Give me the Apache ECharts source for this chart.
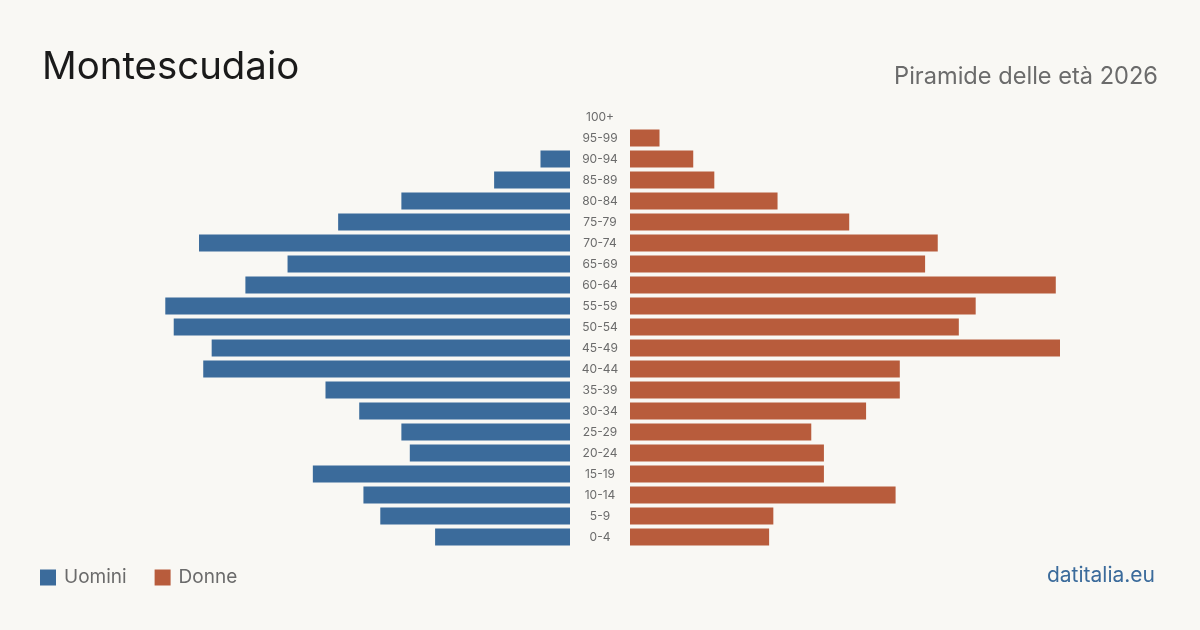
<!DOCTYPE html>
<html>
<head>
<meta charset="utf-8">
<script src="https://cdn.jsdelivr.net/npm/echarts@6/dist/echarts.min.js"></script>
<style>
  html, body { margin: 0; padding: 0; background: #f9f8f4; }
  #chart { width: 1200px; height: 630px; }
</style>
</head>
<body>
<div id="chart"></div>
<script>
// classi di età, dal basso verso l'alto
var ageGroups = ['0-4', '5-9', '10-14', '15-19', '20-24', '25-29', '30-34', '35-39', '40-44', '45-49',
  '50-54', '55-59', '60-64', '65-69', '70-74', '75-79', '80-84', '85-89', '90-94', '95-99', '100+']
var men = [32, 45, 49, 61, 38, 40, 50, 58, 87, 85, 94, 96, 77, 67, 88, 55, 40, 18, 7, 0, 0]
var women = [33, 34, 63, 46, 46, 43, 56, 64, 64, 102, 78, 82, 101, 70, 73, 52, 35, 20, 15, 7, 0]
var maxValue = 102

var blue = '#3b6b9b'
var orange = '#b85c3c'
var font = 'Inter, "Noto Sans", sans-serif'

var chart = echarts.init(document.getElementById('chart'))

var option = {
  backgroundColor: '#f9f8f4',
  animation: false,
  textStyle: { fontFamily: font },
  title: [
    {
      text: 'Montescudaio',
      left: 37,
      top: 43,
      textStyle: { fontFamily: font, fontSize: 38.4, fontWeight: 'normal', color: '#1a1a1a' }
    },
    {
      text: 'Piramide delle età 2026',
      right: 37,
      top: 60,
      textStyle: { fontFamily: font, fontSize: 23.6, fontWeight: 'normal', color: '#6b6b6b' }
    }
  ],
  legend: {
    left: 35,
    top: 563,
    icon: 'rect',
    itemWidth: 16,
    itemHeight: 16,
    itemGap: 28,
    textStyle: { fontFamily: font, fontSize: 19, color: '#6b6b6b', padding: [0, 0, 0, 3] },
    data: ['Uomini', 'Donne']
  },
  graphic: [
    {
      type: 'text',
      right: 45,
      top: 565,
      style: { text: 'datitalia.eu', fontFamily: font, fontSize: 21, fill: '#3b6b9b' }
    }
  ],
  grid: [
    { left: 140, width: 430, top: 106.5, height: 441 },
    { left: 630, width: 430, top: 106.5, height: 441 }
  ],
  xAxis: [
    { gridIndex: 0, type: 'value', inverse: true, min: 0, max: maxValue, show: false },
    { gridIndex: 1, type: 'value', min: 0, max: maxValue, show: false }
  ],
  yAxis: [
    {
      gridIndex: 0,
      type: 'category',
      data: ageGroups,
      position: 'right',
      axisLine: { show: false },
      axisTick: { show: false },
      axisLabel: { align: 'center', margin: 30, fontSize: 12, color: '#6b6b6b', fontFamily: font }
    },
    {
      gridIndex: 1,
      type: 'category',
      data: ageGroups,
      show: false
    }
  ],
  series: [
    {
      name: 'Uomini',
      type: 'bar',
      xAxisIndex: 0,
      yAxisIndex: 0,
      data: men,
      barWidth: 17,
      itemStyle: { color: blue }
    },
    {
      name: 'Donne',
      type: 'bar',
      xAxisIndex: 1,
      yAxisIndex: 1,
      data: women,
      barWidth: 17,
      itemStyle: { color: orange }
    }
  ]
}

chart.setOption(option)
</script>
</body>
</html>
